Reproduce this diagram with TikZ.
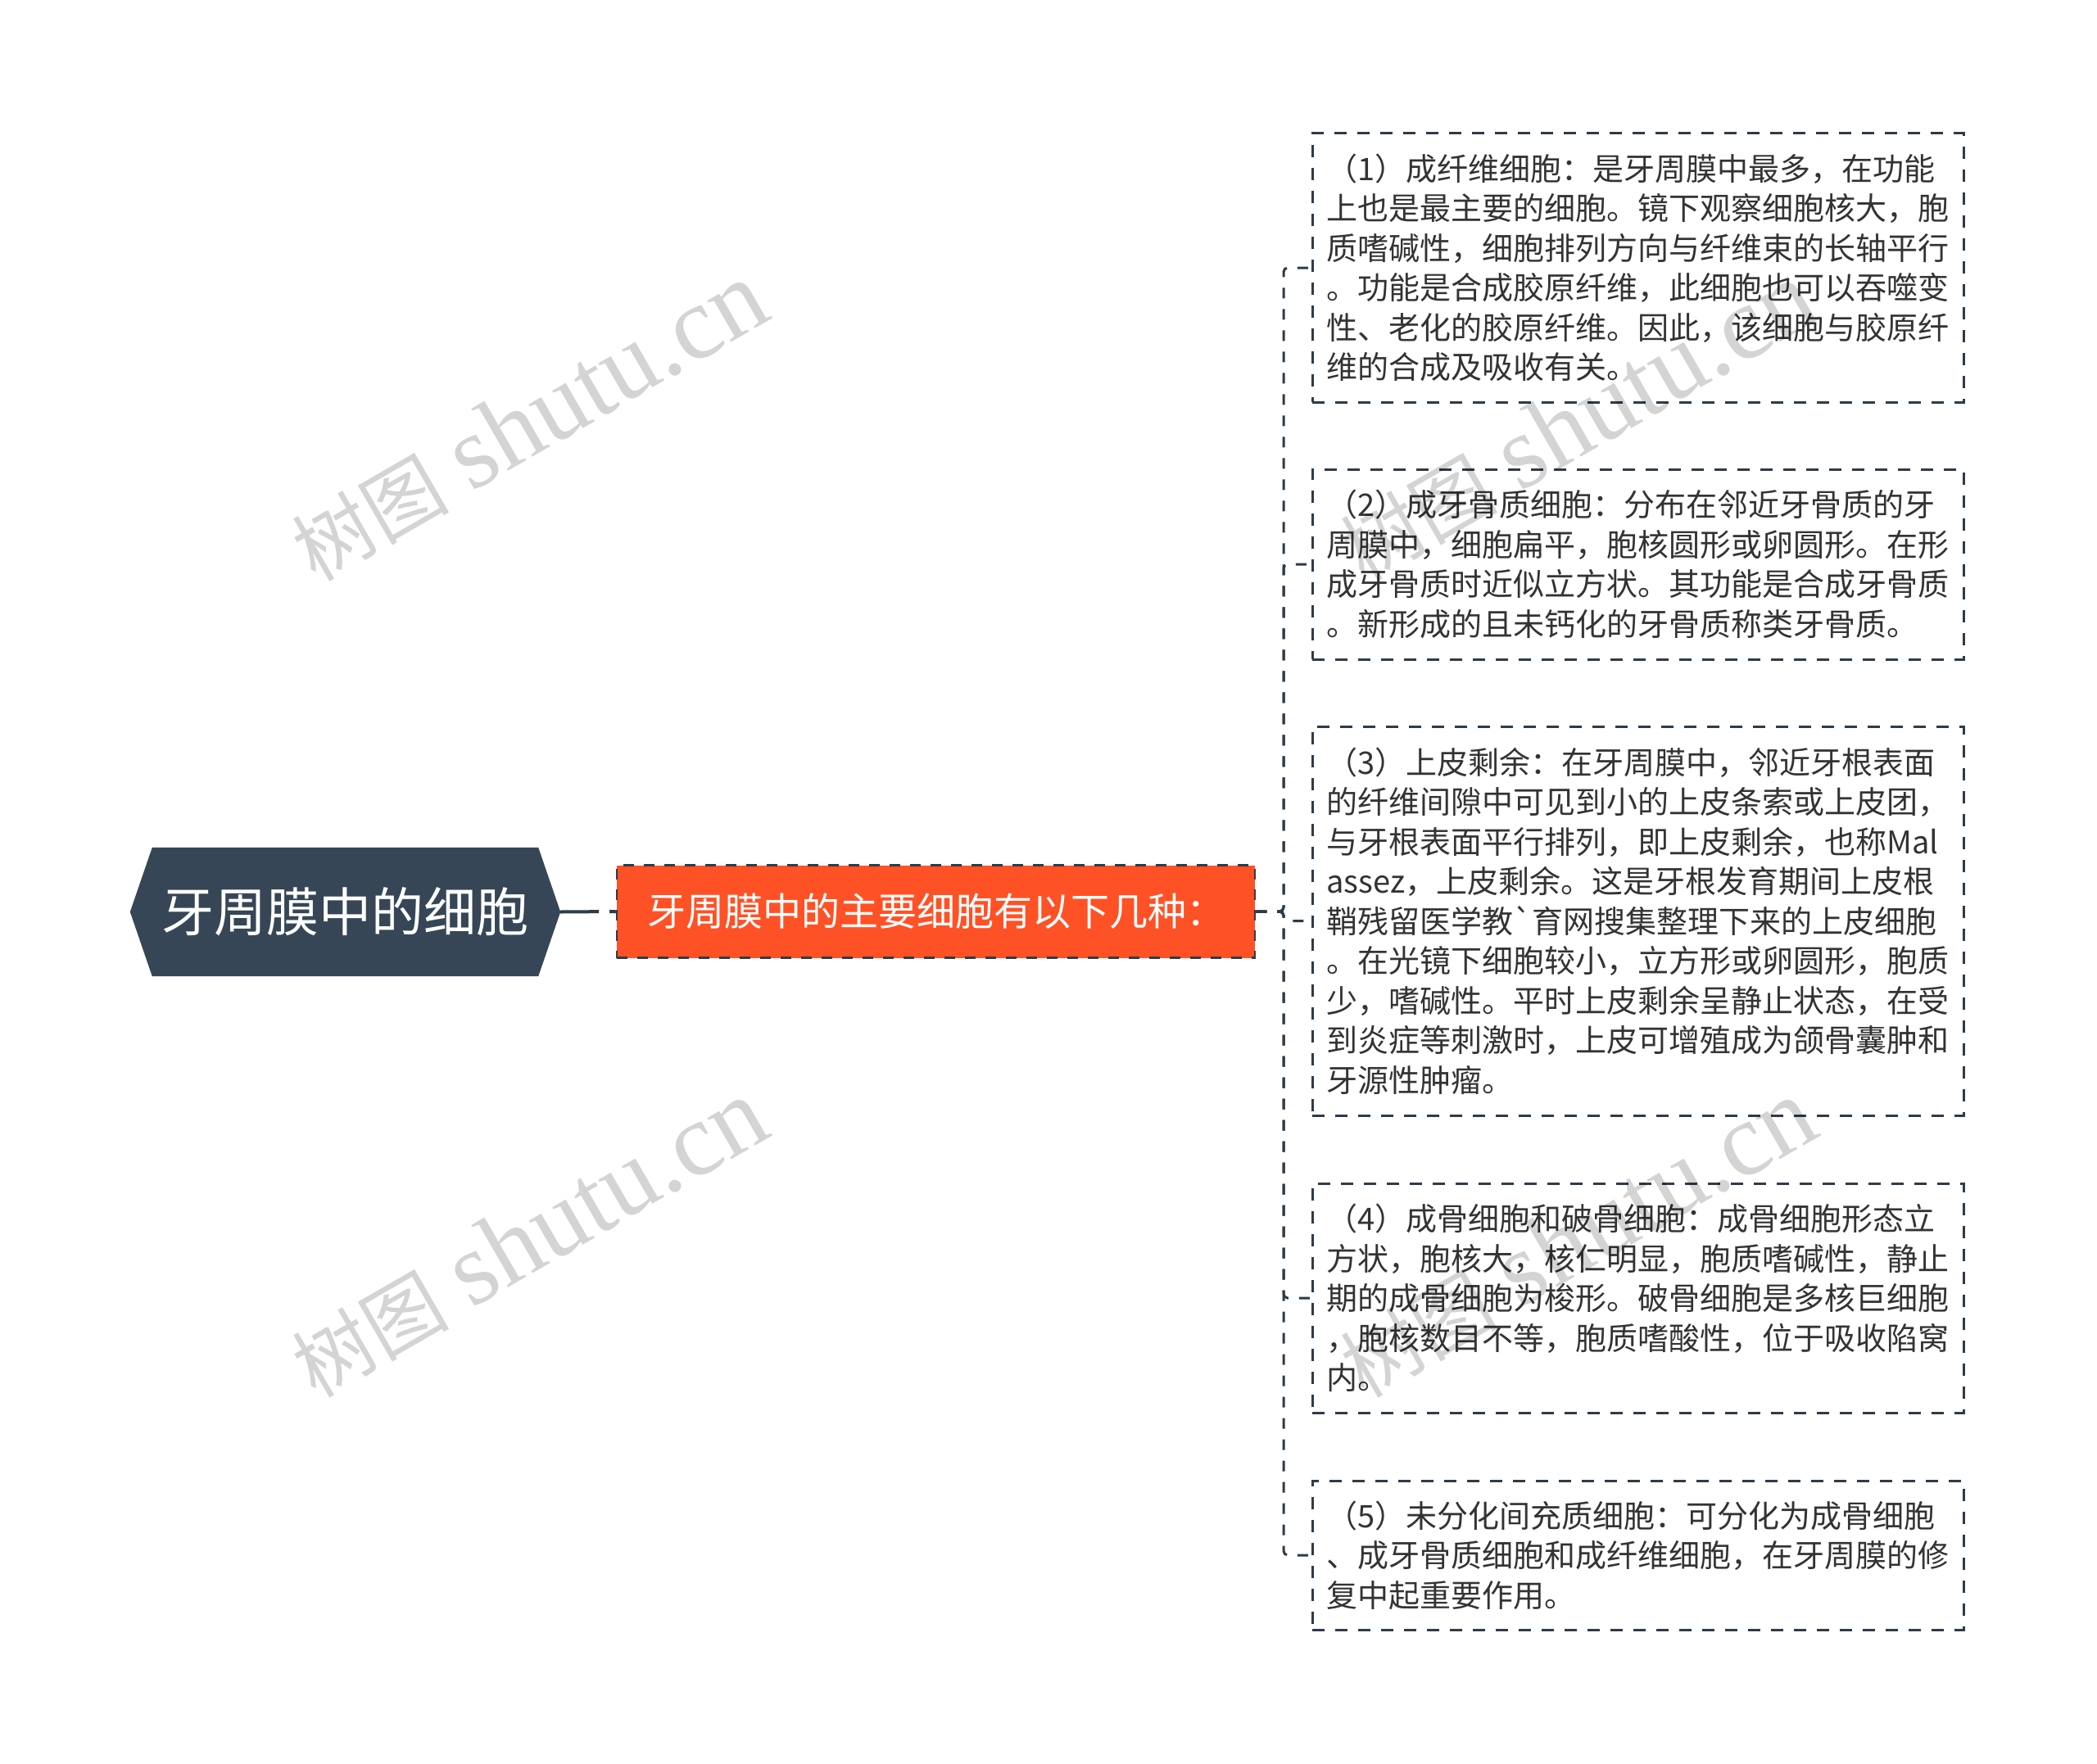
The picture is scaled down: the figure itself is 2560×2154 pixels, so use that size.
\documentclass[tikz,border=0pt]{standalone}
\usepackage{fontspec}
\newfontfamily\cjk{Noto Sans CJK SC}
\newfontfamily\wmlatin{Liberation Serif}
\definecolor{rootfill}{HTML}{364656}
\definecolor{orangefill}{HTML}{FF5126}
\definecolor{linec}{HTML}{2E3B49}
\definecolor{txtc}{HTML}{333333}
\pgfdeclarelayer{bg}
\pgfsetlayers{bg,main}
\begin{document}
\begin{tikzpicture}[x=1pt,y=-1pt,
  rootlabel/.style={inner sep=0pt, minimum width=525pt, minimum height=157pt, text=white,
    font=\cjk\fontsize{64}{72}\selectfont},
  subbox/.style={draw=linec, line width=2.5pt, dash pattern=on 13pt off 12pt, fill=orangefill,
    inner sep=0pt, minimum width=779pt, minimum height=113pt, text=white,
    font=\cjk\fontsize{47}{54}\selectfont},
  detail/.style={draw=linec, line width=3pt, dash pattern=on 15pt off 13pt, inner sep=0pt,
    minimum width=795pt, text width=760pt, align=left, text=txtc,
    font=\cjk\fontsize{38}{48.5}\selectfont},
  rootconn/.style={draw=linec, line width=4pt, dash pattern=on 47pt off 13pt},
  conn/.style={draw=linec, line width=3pt, dash pattern=on 13pt off 13pt, rounded corners=5pt},
  wm/.style={rotate=30, text=black, text opacity=0.17, inner sep=0pt,
    font=\wmlatin\fontsize{110}{120}\selectfont}
]
\useasboundingbox (0,0) rectangle (2560,2154);

% root
\node[rootlabel] (root) at (421.5,1113.5) {牙周膜中的细胞};
\begin{pgfonlayer}{bg}
\fill[white] (0,0) rectangle (2560,2154);
\fill[rootfill] (root.west) -- ([xshift=27pt]root.north west) -- ([xshift=-27pt]root.north east)
  -- (root.east) -- ([xshift=-27pt]root.south east) -- ([xshift=27pt]root.south west) -- cycle;
\end{pgfonlayer}

% sub node
\node[subbox] (sub) at (1142.5,1113) {牙周膜中的主要细胞有以下几种：};

% detail boxes
\node[detail, minimum height=328pt] (b1) at (1999.5,327) {（1）成纤维细胞：是牙周膜中最多，在功能\\上也是最主要的细胞。镜下观察细胞核大，胞\\质嗜碱性，细胞排列方向与纤维束的长轴平行\\。功能是合成胶原纤维，此细胞也可以吞噬变\\性、老化的胶原纤维。因此，该细胞与胶原纤\\维的合成及吸收有关。};
\node[detail, minimum height=232pt] (b2) at (1999.5,689) {（2）成牙骨质细胞：分布在邻近牙骨质的牙\\周膜中，细胞扁平，胞核圆形或卵圆形。在形\\成牙骨质时近似立方状。其功能是合成牙骨质\\。新形成的且未钙化的牙骨质称类牙骨质。};
\node[detail, minimum height=475pt] (b3) at (1999.5,1124.5) {（3）上皮剩余：在牙周膜中，邻近牙根表面\\的纤维间隙中可见到小的上皮条索或上皮团，\\与牙根表面平行排列，即上皮剩余，也称Mal\\assez，上皮剩余。这是牙根发育期间上皮根\\鞘残留医学教`育网搜集整理下来的上皮细胞\\。在光镜下细胞较小，立方形或卵圆形，胞质\\少，嗜碱性。平时上皮剩余呈静止状态，在受\\到炎症等刺激时，上皮可增殖成为颌骨囊肿和\\牙源性肿瘤。};
\node[detail, minimum height=280pt] (b4) at (1999.5,1585) {（4）成骨细胞和破骨细胞：成骨细胞形态立\\方状，胞核大，核仁明显，胞质嗜碱性，静止\\期的成骨细胞为梭形。破骨细胞是多核巨细胞\\，胞核数目不等，胞质嗜酸性，位于吸收陷窝\\内。};
\node[detail, minimum height=182pt] (b5) at (1999.5,1899) {（5）未分化间充质细胞：可分化为成骨细胞\\、成牙骨质细胞和成纤维细胞，在牙周膜的修\\复中起重要作用。};

% connectors
\draw[rootconn] (root.east) -- (sub.west);
\coordinate (trunk) at (1567,1113);
\foreach \b in {b1,b2,b3,b4,b5} {
  \draw[conn] (sub.east) -- (trunk) |- (\b.west);
}

% watermarks
\foreach \n/\p in {wm1/{(645,515)}, wm2/{(1925,515)}, wm3/{(645,1512)}, wm4/{(1925,1512)}} {
  \node[wm] (\n) at \p {{\cjk\fontsize{96}{110}\selectfont 树图} {\fontsize{127}{140}\selectfont shutu.cn}};
}
\end{tikzpicture}
\end{document}
